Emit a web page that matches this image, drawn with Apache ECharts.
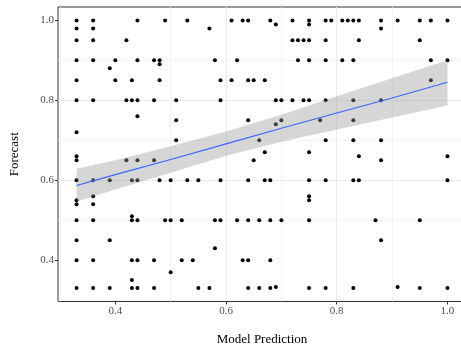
<!DOCTYPE html>
<html>
<head>
<meta charset="utf-8">
<script src="https://cdn.jsdelivr.net/npm/echarts@6/dist/echarts.min.js"></script>
<style>
  html, body { margin: 0; padding: 0; background: #fff; }
  #chart { width: 461px; height: 347px; }
</style>
</head>
<body>
<div id="chart"></div>
<script>
// forecast values and the model predictions observed at each of them
const forecastLevels = [1.0, 0.99, 0.98, 0.95, 0.9, 0.89, 0.88, 0.85, 0.8, 0.76, 0.75, 0.74, 0.72, 0.7, 0.67, 0.66, 0.65, 0.6, 0.56, 0.55, 0.54, 0.51, 0.5, 0.45, 0.43, 0.4, 0.37, 0.35, 0.33, 0.333];
const predictionsByLevel = [
  [0.33, 0.36, 0.44, 0.49, 0.53, 0.61, 0.63, 0.64, 0.68, 0.72, 0.75, 0.78, 0.79, 0.81, 0.82, 0.83, 0.84, 0.88, 0.91, 0.95, 0.97, 1.0],
  [0.69, 0.75],
  [0.33, 0.36, 0.57, 0.88],
  [0.33, 0.36, 0.42, 0.72, 0.73, 0.74, 0.75, 0.78, 0.84, 0.95],
  [0.33, 0.36, 0.40, 0.44, 0.47, 0.48, 0.58, 0.62, 0.73, 0.75, 0.78, 0.81, 0.83, 0.97, 1.0],
  [0.48],
  [0.39],
  [0.33, 0.40, 0.43, 0.48, 0.59, 0.61, 0.64, 0.65, 0.67, 0.97],
  [0.33, 0.36, 0.42, 0.43, 0.44, 0.47, 0.51, 0.59, 0.69, 0.70, 0.72, 0.74, 0.75, 0.78, 0.83, 0.88],
  [0.44],
  [0.51, 0.64, 0.70, 0.77, 0.83],
  [0.69],
  [0.33],
  [0.51, 0.66, 0.78, 0.83, 0.88],
  [0.67, 0.75],
  [0.33, 0.84, 1.0],
  [0.33, 0.42, 0.44, 0.47, 0.65, 0.88],
  [0.33, 0.36, 0.39, 0.43, 0.44, 0.48, 0.50, 0.53, 0.55, 0.59, 0.64, 0.67, 0.68, 0.75, 0.78, 0.83, 0.84, 1.0],
  [0.36, 0.75],
  [0.33, 0.75],
  [0.33, 0.36],
  [0.43],
  [0.33, 0.36, 0.43, 0.44, 0.49, 0.50, 0.52, 0.58, 0.59, 0.62, 0.64, 0.66, 0.68, 0.70, 0.75, 0.87, 0.95],
  [0.33, 0.39, 0.88],
  [0.58],
  [0.33, 0.36, 0.43, 0.44, 0.47, 0.52, 0.54, 0.63, 0.64, 0.68],
  [0.50],
  [0.43],
  [0.33, 0.36, 0.39, 0.43, 0.44, 0.47, 0.55, 0.57, 0.64, 0.66, 0.68, 0.75, 0.78, 0.83, 0.95, 1.0],
  [0.69, 0.91]
];

// linear fit with its confidence band
const fitX     = [0.33, 0.4, 0.5, 0.6, 0.7, 0.8, 0.9, 1.0];
const fitY     = [0.587, 0.614, 0.652, 0.691, 0.730, 0.768, 0.806, 0.845];
const bandLow  = [0.546, 0.577, 0.619, 0.661, 0.696, 0.727, 0.757, 0.787];
const bandHigh = [0.629, 0.650, 0.685, 0.722, 0.764, 0.810, 0.855, 0.900];

const xTicks = [0.4, 0.6, 0.8, 1.0];
const yTicks = [0.4, 0.6, 0.8, 1.0];
const minorX = [0.3, 0.5, 0.7, 0.9];
const minorY = [0.3, 0.5, 0.7, 0.9];

const points = [];
forecastLevels.forEach((f, i) => {
  predictionsByLevel[i].forEach(p => points.push([p, f]));
});

const serif = 'Liberation Serif';

function axisCfg(name, ticks, extra) {
  return Object.assign({
    type: 'value',
    min: 0.2965,
    max: 1.0335,
    splitNumber: 4,
    name: name,
    nameLocation: 'middle',
    nameTextStyle: { color: '#000', fontFamily: serif, fontSize: 13 },
    axisLine: { show: false },
    axisTick: { show: true, length: 3, customValues: ticks, lineStyle: { color: '#333', width: 1 } },
    axisLabel: {
      customValues: ticks,
      color: '#4d4d4d',
      fontFamily: serif,
      fontSize: 11,
      margin: 4,
      formatter: v => v.toFixed(1)
    },
    splitLine: { show: true, showMinLine: false, showMaxLine: false, lineStyle: { color: '#ebebeb', width: 1 } }
  }, extra);
}

const chart = echarts.init(document.getElementById('chart'), null, { renderer: 'canvas' });

chart.setOption({
  animation: false,
  backgroundColor: '#fff',
  grid: {
    left: 58, top: 7, width: 408, height: 294.5,
    outerBoundsMode: 'none',
    containLabel: false,
    show: true, borderColor: '#333', borderWidth: 1, backgroundColor: '#fff'
  },
  xAxis: axisCfg('Model Prediction', xTicks, { nameGap: 32 }),
  yAxis: axisCfg('Forecast', yTicks, { nameGap: 37, nameRotate: 90 }),
  series: [
    {
      // minor grid lines
      type: 'line',
      data: [],
      z: 1,
      silent: true,
      markLine: {
        silent: true,
        z: 1,
        symbol: 'none',
        label: { show: false },
        lineStyle: { color: '#f1f1f1', width: 0.8, type: 'solid' },
        data: minorX.map(v => ({ xAxis: v })).concat(minorY.map(v => ({ yAxis: v })))
      }
    },
    {
      type: 'scatter',
      data: points,
      symbolSize: 4,
      itemStyle: { color: '#000', opacity: 1 },
      z: 2
    },
    {
      type: 'custom',
      silent: true,
      z: 3,
      data: [[fitX[0], fitY[0]]],
      renderItem: (params, api) => {
        const upper = fitX.map((x, i) => api.coord([x, bandHigh[i]]));
        const lower = fitX.map((x, i) => api.coord([x, bandLow[i]])).reverse();
        return {
          type: 'polygon',
          shape: { points: upper.concat(lower) },
          style: { fill: 'rgba(153,153,153,0.4)' }
        };
      }
    },
    {
      type: 'line',
      data: fitX.map((x, i) => [x, fitY[i]]),
      showSymbol: false,
      silent: true,
      z: 4,
      lineStyle: { color: '#3366FF', width: 1.1 }
    }
  ]
});
</script>
</body>
</html>
